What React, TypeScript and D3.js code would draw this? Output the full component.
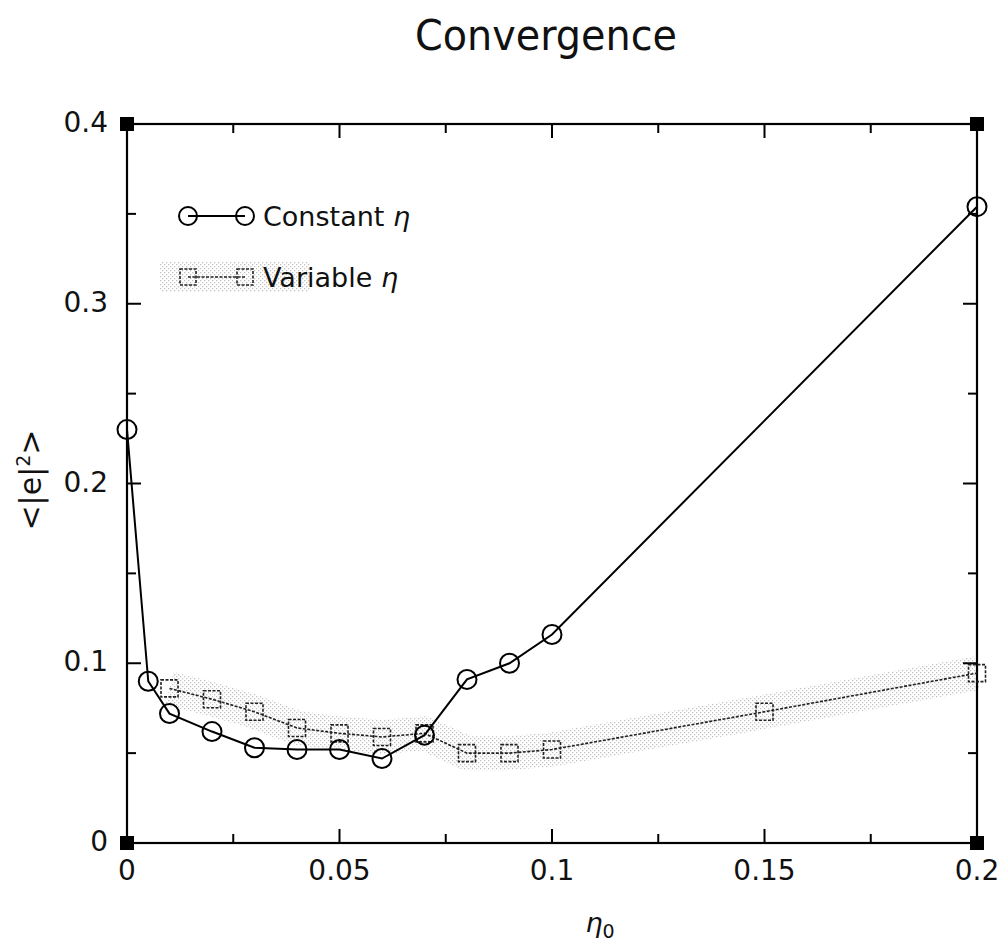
import React from 'react';
import * as d3 from 'd3';

// eta_0 values and mean squared error
const constEta = [0, 0.005, 0.01, 0.02, 0.03, 0.04, 0.05, 0.06, 0.07, 0.08, 0.09, 0.1, 0.2];
const constErr = [0.23, 0.09, 0.072, 0.062, 0.053, 0.052, 0.052, 0.047, 0.06, 0.091, 0.1, 0.116, 0.354];
const varEta = [0.01, 0.02, 0.03, 0.04, 0.05, 0.06, 0.07, 0.08, 0.09, 0.1, 0.15, 0.2];
const varErr = [0.086, 0.08, 0.073, 0.064, 0.061, 0.059, 0.061, 0.05, 0.05, 0.052, 0.073, 0.0945];

const xMajor = [0, 0.05, 0.1, 0.15, 0.2];
const xMinor = [0.025, 0.075, 0.125, 0.175];
const yMajor = [0, 0.1, 0.2, 0.3, 0.4];
const yMinor = [0.05, 0.15, 0.25, 0.35];
const xLabels = ['0', '0.05', '0.1', '0.15', '0.2'];
const yLabels = ['0', '0.1', '0.2', '0.3', '0.4'];

const W = 1005;
const H = 945;
const FONT = '"DejaVu Sans", sans-serif';

export default function App() {
  const x = d3.scaleLinear().domain([0, 0.2]).range([127, 977]);
  const y = d3.scaleLinear().domain([0, 0.4]).range([843, 124]);
  const [x0, x1] = x.range();
  const [y0, y1] = y.range();

  const cPts = constEta.map((e, i) => [e, constErr[i]] as [number, number]);
  const vPts = varEta.map((e, i) => [e, varErr[i]] as [number, number]);
  const line = d3.line<[number, number]>().x(d => x(d[0])).y(d => y(d[1]));

  const sq = 17;
  const corners = [[x0, y0], [x1, y0], [x0, y1], [x1, y1]];

  return (
    <svg width={W} height={H} style={{ position: 'absolute', left: 0, top: 0, background: '#fff' }}>
      <defs>
        <pattern id="dots" width="4" height="4" patternUnits="userSpaceOnUse">
          <rect x="0" y="0" width="1.3" height="1.3" fill="#777" />
          <rect x="2" y="2" width="1.3" height="1.3" fill="#777" />
        </pattern>
      </defs>

      {/* title */}
      <text x={546} y={50} textAnchor="middle" fontFamily={FONT} fontSize={42} textLength={262} lengthAdjust="spacingAndGlyphs" fill="#111">Convergence</text>

      {/* halftone halo behind variable series */}
      <path d={line(vPts) || ''} fill="none" stroke="url(#dots)" strokeWidth={34} strokeLinejoin="round" opacity={0.45} />

      {/* frame */}
      <rect x={x0} y={y1} width={x1 - x0} height={y0 - y1} fill="none" stroke="#000" strokeWidth={2.2} />

      {/* ticks */}
      {xMajor.map(v => (
        <g key={'xM' + v}>
          <line x1={x(v)} x2={x(v)} y1={y0} y2={y0 - 14} stroke="#000" strokeWidth={2} />
          <line x1={x(v)} x2={x(v)} y1={y1} y2={y1 + 14} stroke="#000" strokeWidth={2} />
        </g>
      ))}
      {xMinor.map(v => (
        <g key={'xm' + v}>
          <line x1={x(v)} x2={x(v)} y1={y0} y2={y0 - 9} stroke="#000" strokeWidth={2} />
          <line x1={x(v)} x2={x(v)} y1={y1} y2={y1 + 9} stroke="#000" strokeWidth={2} />
        </g>
      ))}
      {yMajor.map(v => (
        <g key={'yM' + v}>
          <line x1={x0} x2={x0 + 14} y1={y(v)} y2={y(v)} stroke="#000" strokeWidth={2} />
          <line x1={x1} x2={x1 - 14} y1={y(v)} y2={y(v)} stroke="#000" strokeWidth={2} />
        </g>
      ))}
      {yMinor.map(v => (
        <g key={'ym' + v}>
          <line x1={x0} x2={x0 + 9} y1={y(v)} y2={y(v)} stroke="#000" strokeWidth={2} />
          <line x1={x1} x2={x1 - 9} y1={y(v)} y2={y(v)} stroke="#000" strokeWidth={2} />
        </g>
      ))}

      {/* corner blocks */}
      {corners.map(([cx, cy], i) => (
        <rect key={i} x={cx - 7} y={cy - 7} width={14} height={14} fill="#000" />
      ))}

      {/* tick labels */}
      {xMajor.map((v, i) => (
        <text key={'xl' + v} x={x(v)} y={880} textAnchor="middle" fontFamily={FONT} fontSize={28} fill="#111">{xLabels[i]}</text>
      ))}
      {yMajor.map((v, i) => (
        <text key={'yl' + v} x={108} y={y(v) + 8} textAnchor="end" fontFamily={FONT} fontSize={28} fill="#111">{yLabels[i]}</text>
      ))}

      {/* axis titles */}
      <text transform="translate(41,480) rotate(-90)" textAnchor="middle" fontFamily={FONT} fontSize={30} fill="#111">
        {'<|e|'}<tspan dy={-11} fontSize={19}>2</tspan><tspan dy={11}>{'>'}</tspan>
      </text>
      <text x={600} y={932} textAnchor="middle" fontFamily={FONT} fontSize={27} fill="#111">
        <tspan fontStyle="italic">η</tspan><tspan dy={6} fontSize={19}>0</tspan>
      </text>

      {/* variable eta series */}
      <path d={line(vPts) || ''} fill="none" stroke="#222" strokeWidth={1.6} strokeDasharray="3,1.5" />
      {vPts.map((d, i) => (
        <rect key={'v' + i} x={x(d[0]) - sq / 2} y={y(d[1]) - sq / 2} width={sq} height={sq} fill="none" stroke="#222" strokeWidth={1.6} strokeDasharray="3,1.5" />
      ))}

      {/* constant eta series */}
      <path d={line(cPts) || ''} fill="none" stroke="#000" strokeWidth={2} />
      {cPts.map((d, i) => (
        <circle key={'c' + i} cx={x(d[0])} cy={y(d[1])} r={9.5} fill="none" stroke="#000" strokeWidth={2} />
      ))}

      {/* legend */}
      <line x1={188} x2={245} y1={216} y2={216} stroke="#000" strokeWidth={2} />
      <circle cx={188} cy={216} r={9} fill="none" stroke="#000" strokeWidth={2} />
      <circle cx={245} cy={216} r={9} fill="none" stroke="#000" strokeWidth={2} />
      <text x={263} y={226} fontFamily={FONT} fontSize={27} fill="#111">Constant <tspan fontStyle="italic">η</tspan></text>

      <rect x={160} y={262} width={150} height={30} fill="url(#dots)" opacity={0.45} />
      <line x1={188} x2={245} y1={277} y2={277} stroke="#222" strokeWidth={1.6} strokeDasharray="3,1.5" />
      <rect x={188 - 8} y={277 - 8} width={16} height={16} fill="none" stroke="#222" strokeWidth={1.6} strokeDasharray="3,1.5" />
      <rect x={245 - 8} y={277 - 8} width={16} height={16} fill="none" stroke="#222" strokeWidth={1.6} strokeDasharray="3,1.5" />
      <text x={263} y={287} fontFamily={FONT} fontSize={27} fill="#111">Variable <tspan fontStyle="italic">η</tspan></text>
    </svg>
  );
}
